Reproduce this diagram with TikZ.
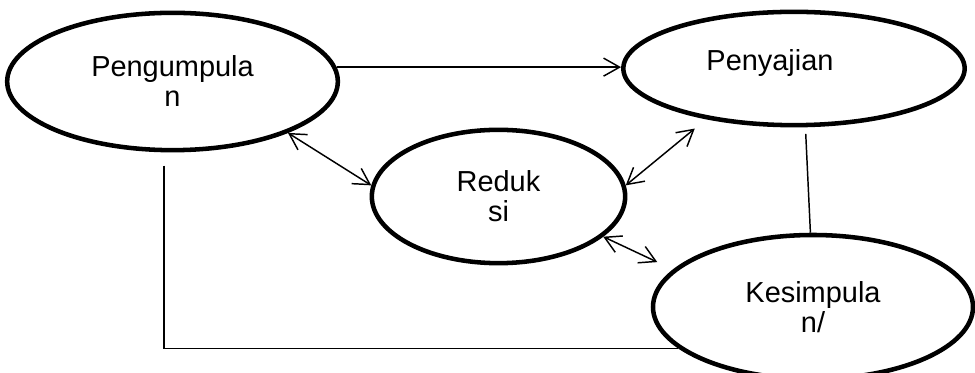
\documentclass[tikz,border=0pt]{standalone}
\usepackage{fontspec}
\setmainfont{Liberation Sans}
\usetikzlibrary{shapes.geometric,arrows.meta}
\begin{document}
\begin{tikzpicture}[x=0.75pt, y=-0.75pt,
	teks/.style = {font=\fontsize{21.7}{22.5}\selectfont},
	tahap/.style = {draw, ellipse, line width=3.4pt, inner sep=0pt, align=center, teks},
	garis/.style = {line width=1.1pt},
	panah/.style = {garis, -{Straight Barb[length=12pt, width=13.5pt]}},
	dua/.style = {garis, {Straight Barb[length=12pt, width=13.5pt]}-{Straight Barb[length=12pt, width=13.5pt]}}]
				\useasboundingbox (0,0) rectangle (975,373);
				\node[tahap, minimum width=248pt, minimum height=103pt] (peng) at (172.5,81.5) {Pengumpula\\n};
				\node[tahap, minimum width=256pt, minimum height=85pt, label={[teks, xshift=-18pt, yshift=4pt]center:Penyajian}] (peny) at (794,68.5) {};
				\node[tahap, minimum width=190pt, minimum height=100pt] (red) at (498.5,196.5) {Reduk\\si};
				\node[tahap, minimum width=240pt, minimum height=108pt] (kes) at (813,307) {Kesimpula\\n/};

				\draw[panah] (peng.5) -- (peng.5 -| peny.west);
				\draw[dua] (peng.-24) -- (red.175);
				\draw[dua, shorten >=11pt] (red.5) -- (peny.210);
				\draw[dua, shorten >=13pt] (red.-21) -- (kes.165);
				\draw[garis, shorten <=5pt] (peny.-79) -- (kes.92);
				\draw[garis, shorten <=10pt] (peng.263) |- (kes.197);
			\end{tikzpicture}
\end{document}
